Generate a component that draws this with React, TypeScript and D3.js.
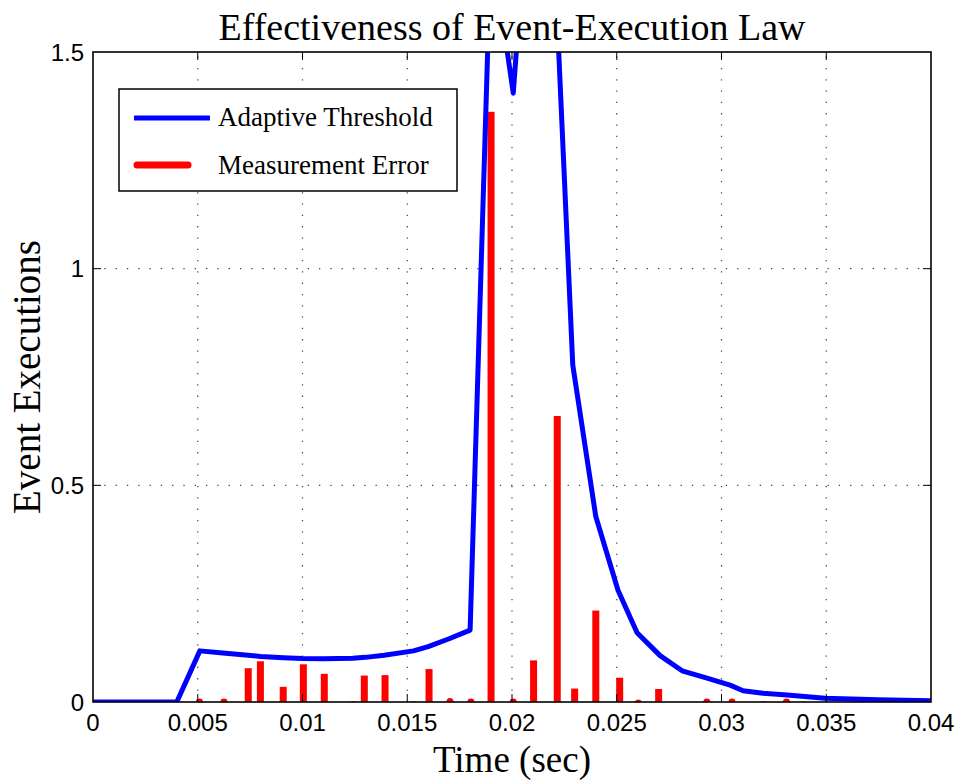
import * as d3 from "d3";

// Adaptive threshold (blue line)
const thresholdTime = [
  0, 0.004, 0.0051, 0.0062, 0.0074, 0.008, 0.0091, 0.01, 0.011, 0.0124, 0.013,
  0.0139, 0.0153, 0.016, 0.017, 0.018, 0.019, 0.02006, 0.02103, 0.0221, 0.0229,
  0.024, 0.02506, 0.02597, 0.02707, 0.02812, 0.02931, 0.03041, 0.03103, 0.03198,
  0.03313, 0.03494, 0.03747, 0.04,
];
const thresholdValue = [
  0, 0, 0.118, 0.113, 0.108, 0.105, 0.102, 0.1005, 0.1, 0.101, 0.103, 0.108,
  0.118, 0.128, 0.146, 0.166, 1.76, 1.405, 2.04, 1.64, 0.778, 0.428, 0.258, 0.16,
  0.107, 0.072, 0.055, 0.039, 0.026, 0.02, 0.016, 0.0085, 0.005, 0.003,
];

// Measurement error at event instants (red bars)
const eventTime = [
  0.00508, 0.00625, 0.00741, 0.00799, 0.00908, 0.01004, 0.01104, 0.0124, 0.01295,
  0.01394, 0.01529, 0.01604, 0.01704, 0.01804, 0.019, 0.02006, 0.02103, 0.02216,
  0.02299, 0.024, 0.02514, 0.02603, 0.027, 0.0293, 0.0305, 0.032, 0.0331, 0.03746,
];
const eventError = [
  0.008, 0.008, 0.078, 0.094, 0.035, 0.087, 0.065, 0.002, 0.061, 0.062, 0.002,
  0.076, 0.009, 0.008, 1.362, 0.008, 0.096, 0.66, 0.031, 0.211, 0.056, 0.006,
  0.03, 0.008, 0.008, 0.002, 0.008, 0.008,
];

const xTicks = [0, 0.005, 0.01, 0.015, 0.02, 0.025, 0.03, 0.035, 0.04];
const xTickLabels = ["0", "0.005", "0.01", "0.015", "0.02", "0.025", "0.03", "0.035", "0.04"];
const yTicks = [0, 0.5, 1, 1.5];
const yTickLabels = ["0", "0.5", "1", "1.5"];

const W = 959;
const H = 780;
const M = { left: 93, right: 28, top: 52, bottom: 78 };
const serif = "'Liberation Serif', 'Times New Roman', serif";
const sans = "'Liberation Sans', Arial, sans-serif";

export default function App() {
  const x = d3.scaleLinear().domain([0, 0.04]).range([M.left, W - M.right]);
  const y = d3.scaleLinear().domain([0, 1.5]).range([H - M.bottom, M.top]);
  const [x0, x1] = x.range();
  const [y0, y1] = y.range();

  const line = d3
    .line<number>()
    .x((_, i) => x(thresholdTime[i]))
    .y((d) => y(d));

  const barW = 7;

  return (
    <svg width={W} height={H} style={{ position: "absolute", left: 0, top: 0, background: "#fff" }}>
      <defs>
        <clipPath id="plot">
          <rect x={x0} y={y1} width={x1 - x0} height={y0 - y1} />
        </clipPath>
      </defs>
      <rect width={W} height={H} fill="#fff" />

      {/* grid */}
      <g stroke="#444" strokeWidth={1.2} strokeDasharray="1.3 10">
        {xTicks.slice(1, -1).map((t) => (
          <line key={"gx" + t} x1={x(t)} x2={x(t)} y1={y0} y2={y1} />
        ))}
        {yTicks.slice(1, -1).map((t) => (
          <line key={"gy" + t} x1={x0} x2={x1} y1={y(t)} y2={y(t)} />
        ))}
      </g>

      <g clipPath="url(#plot)">
        {eventTime.map((t, i) => {
          const h = y0 - y(eventError[i]);
          return (
            <rect
              key={"b" + i}
              x={x(t) - barW / 2}
              y={y(eventError[i])}
              width={barW}
              height={h + 5}
              rx={h < 5 ? 3.5 : 0}
              fill="#ff0000"
            />
          );
        })}
        <path d={line(thresholdValue) ?? ""} fill="none" stroke="#0000ff" strokeWidth={5} strokeLinejoin="round" />
      </g>

      {/* ticks */}
      <g stroke="#000" strokeWidth={1}>
        {xTicks.slice(1, -1).map((t) => (
          <g key={"tx" + t}>
            <line x1={x(t)} x2={x(t)} y1={y0} y2={y0 - 8} />
            <line x1={x(t)} x2={x(t)} y1={y1} y2={y1 + 8} />
          </g>
        ))}
        {yTicks.slice(1, -1).map((t) => (
          <g key={"ty" + t}>
            <line x1={x0} x2={x0 + 8} y1={y(t)} y2={y(t)} />
            <line x1={x1} x2={x1 - 8} y1={y(t)} y2={y(t)} />
          </g>
        ))}
      </g>
      <rect x={x0} y={y1} width={x1 - x0} height={y0 - y1} fill="none" stroke="#000" strokeWidth={1.6} />

      {/* tick labels */}
      <g fontFamily={sans} fontSize={24} fill="#000">
        {xTicks.map((t, i) => (
          <text key={"lx" + t} x={x(t)} y={y0 + 29} textAnchor="middle">
            {xTickLabels[i]}
          </text>
        ))}
        {yTicks.map((t, i) => (
          <text key={"ly" + t} x={x0 - 9} y={y(t) + 8.5} textAnchor="end">
            {yTickLabels[i]}
          </text>
        ))}
      </g>

      {/* title & labels */}
      <text x={(x0 + x1) / 2} y={40} textAnchor="middle" fontFamily={serif} fontSize={38}>
        Effectiveness of Event-Execution Law
      </text>
      <text x={(x0 + x1) / 2} y={772} textAnchor="middle" fontFamily={serif} fontSize={37}>
        Time (sec)
      </text>
      <text
        transform={`translate(40,${(y0 + y1) / 2}) rotate(-90)`}
        textAnchor="middle"
        fontFamily={serif}
        fontSize={39}
      >
        Event Executions
      </text>

      {/* legend */}
      <g>
        <rect x={119} y={89} width={338} height={102} fill="#fff" stroke="#000" strokeWidth={1.5} />
        <line x1={134} x2={210} y1={118} y2={118} stroke="#0000ff" strokeWidth={5} />
        <line x1={137} x2={188} y1={165} y2={165} stroke="#ff0000" strokeWidth={7} strokeLinecap="round" />
        <text x={218} y={126} fontFamily={serif} fontSize={27}>
          Adaptive Threshold
        </text>
        <text x={218} y={174} fontFamily={serif} fontSize={27}>
          Measurement Error
        </text>
      </g>
    </svg>
  );
}
